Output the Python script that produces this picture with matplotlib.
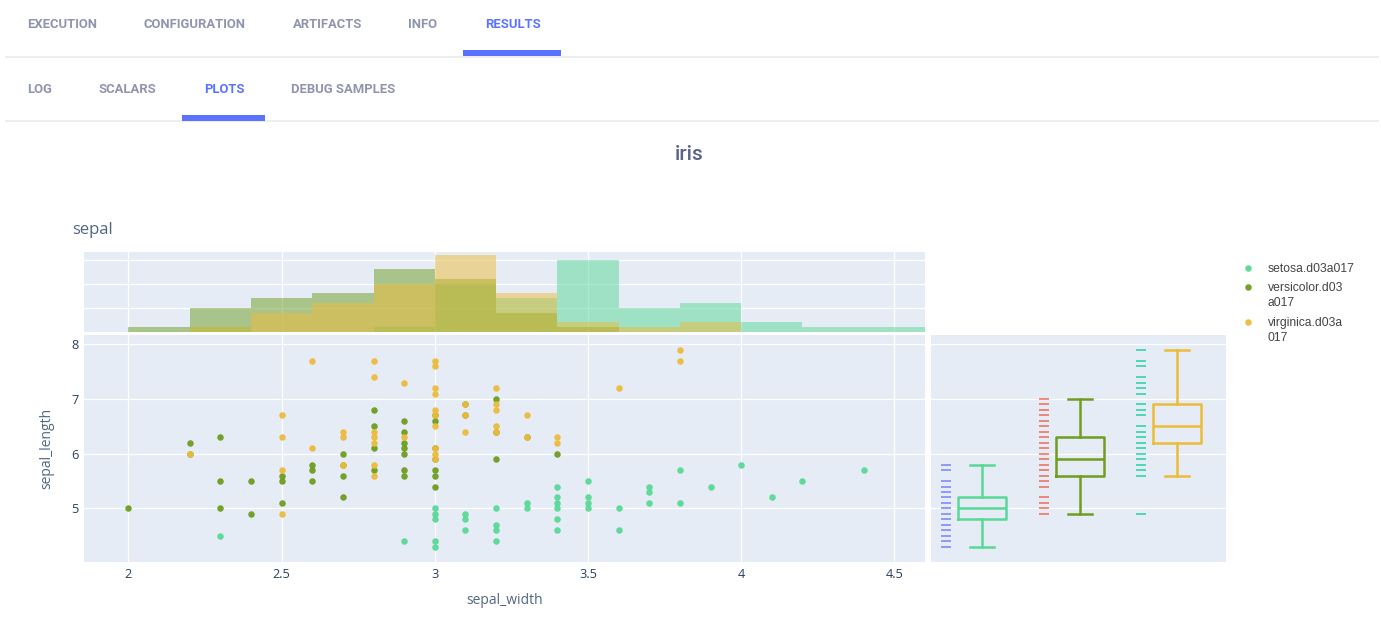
import matplotlib
matplotlib.use("Agg")
import matplotlib.pyplot as plt

W, H = 1381, 627

#--- scatter data (sepal_width -> sepal_length values)
setosa_pts = {2.3: [4.5], 2.9: [4.4], 3.0: [5.0, 4.9, 4.8, 4.4, 4.3], 3.1: [4.9, 4.8, 4.6],
              3.2: [5.0, 4.7, 4.6, 4.4], 3.3: [5.1, 5.0], 3.4: [5.4, 5.2, 5.1, 5.0, 4.8, 4.6],
              3.5: [5.5, 5.2, 5.1, 5.0], 3.6: [5.0, 4.6], 3.7: [5.4, 5.3, 5.1], 3.8: [5.7, 5.1],
              3.9: [5.4], 4.0: [5.8], 4.1: [5.2], 4.2: [5.5], 4.4: [5.7]}
versicolor_pts = {2.0: [5.0], 2.2: [6.2, 6.0], 2.3: [6.3, 5.5, 5.0], 2.4: [5.5, 4.9],
                  2.5: [5.6, 5.5, 5.1], 2.6: [5.8, 5.7, 5.5], 2.7: [6.0, 5.8, 5.6, 5.2],
                  2.8: [6.8, 6.5, 6.1, 5.7], 2.9: [6.6, 6.4, 6.2, 6.1, 6.0, 5.7, 5.6],
                  3.0: [6.7, 6.6, 6.1, 5.9, 5.7, 5.6, 5.4], 3.1: [6.9, 6.7], 3.2: [7.0, 6.4, 5.9],
                  3.3: [6.3], 3.4: [6.0]}
virginica_pts = {2.2: [6.0], 2.5: [6.7, 6.3, 5.7, 4.9], 2.6: [7.7, 6.1], 2.7: [6.4, 6.3, 5.8],
                 2.8: [7.7, 7.4, 6.4, 6.3, 6.2, 5.8, 5.6], 2.9: [7.3, 6.3],
                 3.0: [7.7, 7.6, 7.2, 7.1, 6.8, 6.7, 6.5, 6.1, 6.0, 5.9], 3.1: [6.9, 6.7, 6.4],
                 3.2: [7.2, 6.9, 6.8, 6.5, 6.4], 3.3: [6.7, 6.3], 3.4: [6.3, 6.2],
                 3.6: [7.2], 3.8: [7.9, 7.7]}

#--- histogram counts per 0.2 wide bin
bin_left = [2.0, 2.2, 2.4, 2.6, 2.8, 3.0, 3.2, 3.4, 3.6, 3.8, 4.0, 4.2, 4.4]
setosa_hist = [0, 1, 0, 0, 1, 10, 7, 15, 5, 6, 2, 1, 1]
versicolor_hist = [1, 5, 7, 8, 13, 11, 4, 1, 0, 0, 0, 0, 0]
virginica_hist = [0, 1, 4, 6, 10, 16, 8, 2, 1, 2, 0, 0, 0]

#--- box stats: low whisker, q1, median, q3, high whisker
setosa_box = [4.3, 4.8, 5.0, 5.2, 5.8]
versicolor_box = [4.9, 5.6, 5.9, 6.3, 7.0]
virginica_box = [5.6, 6.2, 6.5, 6.9, 7.9]

#--- rug values next to the boxes
setosa_rug = [4.3, 4.4, 4.5, 4.6, 4.7, 4.8, 4.9, 5.0, 5.1, 5.2, 5.3, 5.4, 5.5, 5.7, 5.8]
versicolor_rug = [4.9, 5.0, 5.1, 5.2, 5.4, 5.5, 5.6, 5.7, 5.8, 5.9, 6.0, 6.1, 6.2, 6.3, 6.4,
                  6.5, 6.6, 6.7, 6.8, 6.9, 7.0]
virginica_rug = [4.9, 5.6, 5.7, 5.8, 5.9, 6.0, 6.1, 6.2, 6.3, 6.4, 6.5, 6.7, 6.8, 6.9, 7.1,
                 7.2, 7.3, 7.4, 7.6, 7.7, 7.9]

#--- labels
names = ["setosa.d03a017", "versicolor.d03\na017", "virginica.d03a\n017"]
x_ticks = [2, 2.5, 3, 3.5, 4, 4.5]
x_tick_labels = ["2", "2.5", "3", "3.5", "4", "4.5"]
y_ticks = [5, 6, 7, 8]
hist_ticks = [5, 10, 15]
top_tabs = ["EXECUTION", "CONFIGURATION", "ARTIFACTS", "INFO", "RESULTS"]
sub_tabs = ["LOG", "SCALARS", "PLOTS", "DEBUG SAMPLES"]

colors = ["#5AD896", "#6F9D1F", "#EDBB3A"]
rug_colors = ["#636EFA", "#EF553B", "#00CC96"]
bg = "#E5ECF6"
tick_col = "#2A3F5F"
label_col = "#506784"


def px_axes(left, top, right, bottom):
    return fig.add_axes([left / W, 1 - bottom / H, (right - left) / W, (bottom - top) / H])


def style(ax):
    ax.set_facecolor(bg)
    ax.set_axisbelow(True)
    ax.grid(True, color="white", lw=0.9)
    ax.tick_params(length=0)
    for s in ax.spines.values():
        s.set_visible(False)


fig = plt.figure(figsize=(W / 100, H / 100), dpi=100)

#--- histogram on top
ax_hist = px_axes(84, 252, 925, 332)
style(ax_hist)
for counts, c in zip([setosa_hist, versicolor_hist, virginica_hist], colors):
    ax_hist.bar(bin_left, counts, width=0.2, align="edge", color=c, alpha=0.5, lw=0)
ax_hist.set_xlim(1.855, 4.6)
ax_hist.set_ylim(0, 16.6)
ax_hist.set_xticks(x_ticks)
ax_hist.set_yticks(hist_ticks)
ax_hist.set_xticklabels([])
ax_hist.set_yticklabels([])

#--- main scatter
ax = px_axes(84, 335, 925, 562)
style(ax)
for pts, c in zip([setosa_pts, versicolor_pts, virginica_pts], colors):
    xs = [k for k, v in pts.items() for _ in v]
    ys = [y for v in pts.values() for y in v]
    ax.scatter(xs, ys, s=22, color=c, alpha=0.95, lw=0, zorder=3)
ax.set_xlim(1.855, 4.6)
ax.set_ylim(4.02, 8.17)
ax.set_xticks(x_ticks)
ax.set_xticklabels(x_tick_labels)
ax.set_yticks(y_ticks)
ax.tick_params(labelsize=9.2, labelcolor=tick_col, pad=4)
for t in ax.get_xticklabels() + ax.get_yticklabels():
    t.set_family("Open Sans")
ax.set_xlabel("sepal_width", family="Open Sans", fontsize=10, color=label_col)
ax.xaxis.set_label_coords(0.5, -0.137)
ax.set_ylabel("sepal_length", family="Open Sans", fontsize=10, color=label_col)
ax.yaxis.set_label_coords(-0.035, 0.5)

#--- boxes and rugs on the right
ax_box = px_axes(931, 335, 1226, 562)
style(ax_box)
ax_box.grid(False, axis="x")
stats = [setosa_box, versicolor_box, virginica_box]
rugs = [setosa_rug, versicolor_rug, virginica_rug]
for i, (st, rug, c, rc) in enumerate(zip(stats, rugs, colors, rug_colors)):
    s = dict(whislo=st[0], q1=st[1], med=st[2], q3=st[3], whishi=st[4], fliers=[])
    props = dict(color=c, lw=1.8)
    ax_box.bxp([s], positions=[i], widths=0.49, showfliers=False, manage_ticks=False,
               boxprops=props, medianprops=props, whiskerprops=props, capprops=props,
               capwidths=0.245)
    ax_box.scatter([i - 0.37] * len(rug), rug, marker="_", s=44, lw=1.25, color=rc, alpha=0.75, zorder=3)
ax_box.set_xlim(-0.526, 2.5)
ax_box.set_ylim(4.02, 8.17)
ax_box.set_xticks([])
ax_box.set_yticks(y_ticks)
ax_box.set_yticklabels([])

#--- page chrome, pixel coordinates
ui = fig.add_axes([0, 0, 1, 1], zorder=-1)
ui.set_xlim(0, W)
ui.set_ylim(H, 0)
ui.axis("off")

grey = "#8E94AE"
blue = "#5A73FF"
for label, x in zip(top_tabs, [27, 144, 293, 408, 485]):
    ui.text(x, 25, label, family="Roboto", weight="bold", fontsize=9.4, va="center",
            color=blue if label == "RESULTS" else grey)
for label, x in zip(sub_tabs, [27, 99, 204, 291]):
    ui.text(x, 89.5, label, family="Roboto", weight="bold", fontsize=9.4, va="center",
            color=blue if label == "PLOTS" else grey)
ui.fill_between([5, 1379], 56, 58, color="#EEEEEE", lw=0)
ui.fill_between([5, 1379], 120, 122, color="#EEEEEE", lw=0)
ui.fill_between([463, 561], 50, 56, color=blue, lw=0)
ui.fill_between([182, 265], 115, 121, color=blue, lw=0)

ui.text(689, 154.5, "iris", family="Roboto", weight="medium", fontsize=15, color="#5A6488",
        ha="center", va="center")
ui.text(72, 229.5, "sepal", family="Open Sans", fontsize=12, color=label_col, va="center")

#--- legend
for name, c, y in zip(names, colors, [268, 287, 322]):
    ui.scatter([1248], [y], s=22, color=c, lw=0, alpha=0.95)
    ui.text(1268, y - 5, name, family="Liberation Sans", fontsize=8.7, color="#444444",
            va="top", linespacing=1.38)

fig.savefig("out.png", dpi=100)
